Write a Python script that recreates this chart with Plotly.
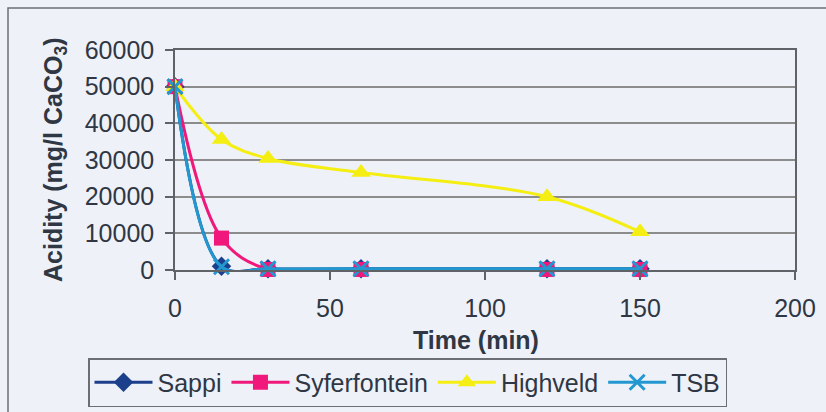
import plotly.graph_objects as go

# Sampling times (min)
time_min = [0, 15, 30, 60, 120, 150]

# Acidity (mg/l CaCO3) per water source
sappi = [50000, 1000, 350, 350, 350, 350]
syferfontein = [50000, 8700, 150, 150, 150, 150]
highveld = [50000, 35600, 30400, 26600, 20000, 10400]
tsb = [50000, 900, 350, 350, 350, 350]

x_ticks = [0, 50, 100, 150, 200]
y_ticks = [0, 10000, 20000, 30000, 40000, 50000, 60000]

BG = "#eef1f8"
TEXT = "#2f3744"
GRID = "#8c8c8c"
AXIS = "#5f6368"
FONT = "Liberation Sans, Arial, sans-serif"
FS = 25

series = [
    ("Sappi", sappi, "#1c3f8c", dict(symbol="diamond", size=15, color="#1c3f8c")),
    ("Syferfontein", syferfontein, "#f0187a",
     dict(symbol="square", size=15, color="#f0187a")),
    ("Highveld", highveld, "#f4ee12",
     dict(symbol="triangle-up", size=17, color="#f4ee12")),
    ("TSB", tsb, "#2398d0",
     dict(symbol="x-thin-open", size=15, color="#2398d0",
          line=dict(width=3, color="#2398d0"))),
]

fig = go.Figure()
for name, vals, col, mk in series:
    fig.add_trace(go.Scatter(
        x=time_min, y=vals, name=name, mode="lines+markers",
        line=dict(color=col, width=3, shape="spline", smoothing=1.0),
        marker=mk, cliponaxis=False,
    ))

# plot area: x 175..795 px, y 50..270 px
L, R, T, B = 175, 795, 50, 270
W, H = R - L, B - T
WIDTH, HEIGHT = 826, 412

def px(xp):
    return (xp - L) / W

def py(yp):
    return (B - yp) / H

fig.update_layout(
    width=WIDTH, height=HEIGHT,
    margin=dict(l=L, r=WIDTH - R, t=T, b=HEIGHT - B, autoexpand=False),
    paper_bgcolor=BG, plot_bgcolor=BG,
    font=dict(family=FONT, size=FS, color=TEXT),
    showlegend=True,
    legend=dict(
        orientation="h", xref="paper", yref="paper",
        x=px(88), y=py(358), xanchor="left", yanchor="top",
        bgcolor=BG, bordercolor="#6b6f75", borderwidth=1.5,
        font=dict(size=FS, color=TEXT), itemwidth=58,
    ),
    xaxis=dict(
        range=[0, 200], tickvals=x_ticks, ticks="outside", ticklen=8,
        tickcolor=AXIS, tickwidth=1.5, showline=True, linecolor=AXIS,
        linewidth=1.5, mirror=True, showgrid=False, zeroline=False,
        tickfont=dict(size=FS, color=TEXT), ticklabelstandoff=7,
    ),
    yaxis=dict(
        range=[0, 60000], tickvals=y_ticks, ticks="outside", ticklen=8,
        tickcolor=AXIS, tickwidth=1.5, showline=True, linecolor=AXIS,
        linewidth=1.5, mirror=True, showgrid=True, gridcolor=GRID,
        gridwidth=1.5, zeroline=False, tickformat="d",
        tickfont=dict(size=FS, color=TEXT), ticklabelstandoff=6,
    ),
    annotations=[
        dict(text="<b>Acidity (mg/l CaCO<sub>3</sub>)</b>", textangle=-90,
             xref="paper", yref="paper", x=px(55), y=py(160),
             xanchor="center", yanchor="middle", showarrow=False,
             font=dict(size=FS, color=TEXT)),
        dict(text="<b>Time (min)</b>", xref="paper", yref="paper",
             x=px(476), y=py(340), xanchor="center", yanchor="middle",
             showarrow=False, font=dict(size=FS, color=TEXT)),
    ],
    shapes=[
        dict(type="rect", xref="paper", yref="paper",
             x0=px(8), y0=py(430), x1=px(840), y1=py(8),
             line=dict(color="#6b6f75", width=1.5), layer="below"),
    ],
)

fig.write_html("out.html")
